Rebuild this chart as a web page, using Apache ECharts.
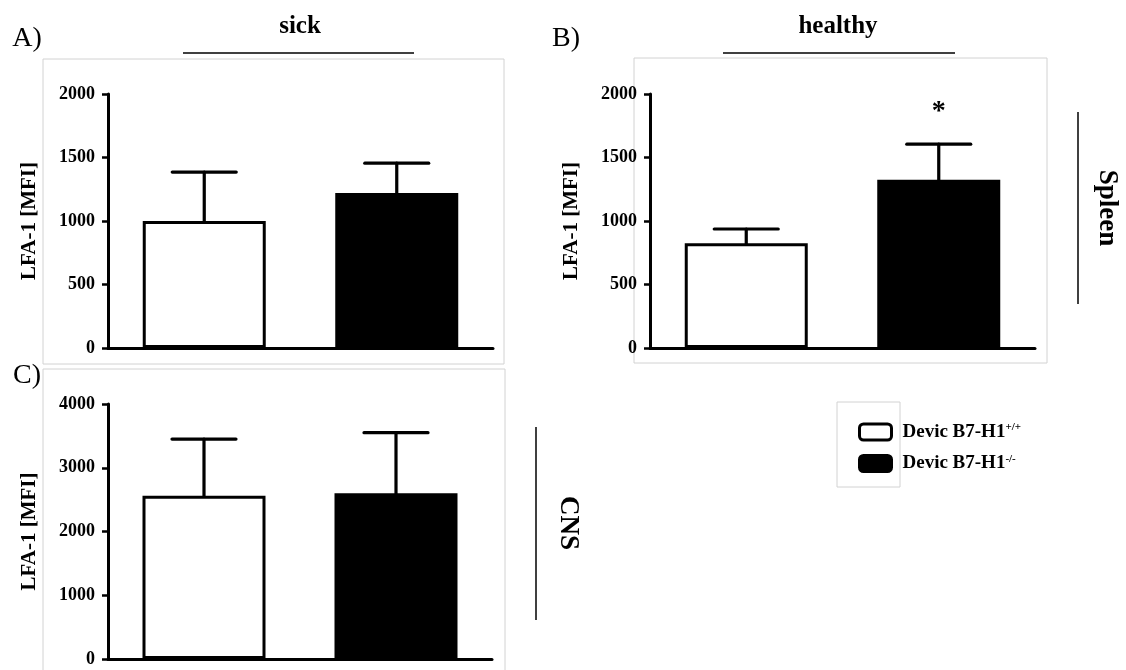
<!DOCTYPE html>
<html>
<head>
<meta charset="utf-8">
<script src="https://cdn.jsdelivr.net/npm/echarts@6/dist/echarts.min.js"></script>
<style>html,body{margin:0;padding:0;background:#fff}#c{width:1126px;height:670px}</style>
</head>
<body>
<div id="c"></div>
<script>
// ---- data ----
const categories = ['Devic B7-H1+/+', 'Devic B7-H1-/-'];
const sickSpleenMean = [1000, 1220];
const sickSpleenUpper = [1385, 1455];
const healthySpleenMean = [825, 1325];
const healthySpleenUpper = [937, 1605];
const sickCNSMean = [2560, 2600];
const sickCNSUpper = [3450, 3550];
const healthySpleenSig = ['', '*'];
const spleenTicks = { min: 0, max: 2000, interval: 500 };
const cnsTicks = { min: 0, max: 4000, interval: 1000 };
const panelTitles = ['sick', 'healthy'];
const panelLetters = ['A)', 'B)', 'C)'];
const rowLabels = ['Spleen', 'CNS'];
const yName = 'LFA-1 [MFI]';

const SERIF = '"Liberation Serif", "Times New Roman", serif';
const chart = echarts.init(document.getElementById('c'));

const grids = [
  { left: 108, top: 94, width: 385, height: 254 },
  { left: 650, top: 94, width: 385, height: 254 },
  { left: 108, top: 404, width: 384, height: 255 }
];

function xAx(i) {
  return {
    type: 'category', gridIndex: i, data: categories, z: 10,
    axisLine: { lineStyle: { color: '#000', width: 3 } },
    axisTick: { show: false }, axisLabel: { show: false }
  };
}
function yAx(i, t) {
  return {
    type: 'value', gridIndex: i, min: t.min, max: t.max, interval: t.interval, z: 10,
    name: yName, nameLocation: 'middle', nameGap: 68,
    nameTextStyle: { fontFamily: SERIF, fontWeight: 'bold', fontSize: 21, color: '#000' },
    axisLine: { show: true, lineStyle: { color: '#000', width: 3 } },
    axisTick: { show: true, length: 6, lineStyle: { color: '#000', width: 2.5 } },
    splitLine: { show: false },
    axisLabel: { fontFamily: SERIF, fontWeight: 'bold', fontSize: 18, color: '#000', margin: 13,
      formatter: function (v) { return String(v); } }
  };
}

const whiteStyle = { color: '#fff', borderColor: '#000', borderWidth: 3 };
const blackStyle = { color: '#000', borderColor: '#000', borderWidth: 3 };

function barPair(i, mean) {
  return [
    { name: categories[0], type: 'bar', xAxisIndex: i, yAxisIndex: i, barWidth: 123, barGap: '-100%',
      data: [mean[0], '-'], itemStyle: whiteStyle, emphasis: { disabled: true } },
    { name: categories[1], type: 'bar', xAxisIndex: i, yAxisIndex: i, barWidth: 123, barGap: '-100%',
      data: ['-', mean[1]], itemStyle: blackStyle, emphasis: { disabled: true } }
  ];
}
function errSeries(i, mean, upper, sig) {
  return {
    type: 'custom', xAxisIndex: i, yAxisIndex: i, z: 5,
    data: mean.map((m, k) => [k, m, upper[k]]),
    renderItem: function (params, api) {
      const p0 = api.coord([api.value(0), api.value(1)]);
      const p1 = api.coord([api.value(0), api.value(2)]);
      const half = 32;
      const st = { stroke: '#000', lineWidth: 3.2, lineCap: 'round' };
      const children = [
        { type: 'line', shape: { x1: p0[0], y1: p0[1], x2: p1[0], y2: p1[1] }, style: st },
        { type: 'line', shape: { x1: p1[0] - half, y1: p1[1], x2: p1[0] + half, y2: p1[1] }, style: st }
      ];
      const s = sig ? sig[params.dataIndex] : '';
      if (s) {
        children.push({ type: 'text', x: p1[0], y: p1[1] - 32,
          style: { text: s, fill: '#000', font: 'bold 28px ' + SERIF, align: 'center', verticalAlign: 'middle' } });
      }
      return { type: 'group', children: children };
    }
  };
}

const gray = '#d2d2d2';
const txt = (x, y, text, font, rot) => ({
  type: 'text', x: x, y: y, rotation: rot || 0,
  style: { text: text, font: font, fill: '#000', align: 'center', verticalAlign: 'middle' }
});
const hline = (x1, x2, y, w, c) => ({ type: 'line', shape: { x1: x1, y1: y, x2: x2, y2: y }, style: { stroke: c || '#000', lineWidth: w } });
const vline = (x, y1, y2, w, c) => ({ type: 'line', shape: { x1: x, y1: y1, x2: x, y2: y2 }, style: { stroke: c || '#000', lineWidth: w } });
const frame = (x, y, w, h) => ({ type: 'rect', shape: { x: x, y: y, width: w, height: h }, style: { fill: 'none', stroke: gray, lineWidth: 1 }, z: -1 });

const option = {
  backgroundColor: '#fff',
  animation: false,
  grid: grids,
  xAxis: [xAx(0), xAx(1), xAx(2)],
  yAxis: [yAx(0, spleenTicks), yAx(1, spleenTicks), yAx(2, cnsTicks)],
  legend: {
    data: [
      { name: categories[0], icon: 'roundRect', itemStyle: { color: '#fff', borderColor: '#000', borderWidth: 3 } },
      { name: categories[1], icon: 'roundRect', itemStyle: { color: '#000', borderColor: '#000', borderWidth: 3 } }
    ],
    orient: 'vertical', left: 853, top: 417, itemWidth: 32, itemHeight: 16, itemGap: 12,
    selectedMode: false,
    formatter: function (n) {
      return n === categories[0] ? '{a|Devic B7-H1}{b|+/+}' : '{a|Devic B7-H1}{b|-/-}';
    },
    textStyle: {
      padding: [0, 0, 0, 6],
      rich: {
        a: { fontFamily: SERIF, fontWeight: 'bold', fontSize: 19, color: '#000', lineHeight: 20 },
        b: { fontFamily: SERIF, fontWeight: 'bold', fontSize: 11, color: '#000', verticalAlign: 'top', lineHeight: 20, padding: [0, 0, 8, 0] }
      }
    }
  },
  graphic: [
    frame(43, 59, 461, 305),
    frame(634, 58, 413, 305),
    frame(43, 369, 462, 320),
    frame(837, 402, 63, 85),
    txt(27, 39, panelLetters[0], '28px ' + SERIF),
    txt(566, 39, panelLetters[1], '28px ' + SERIF),
    txt(27, 376, panelLetters[2], '28px ' + SERIF),
    txt(300, 27, panelTitles[0], 'bold 25px ' + SERIF),
    txt(838, 27, panelTitles[1], 'bold 25px ' + SERIF),
    hline(183, 414, 53, 1.5),
    hline(723, 955, 53, 1.5),
    vline(1078, 112, 304, 1.5),
    vline(536, 427, 620, 1.5),
    txt(1107, 208, rowLabels[0], 'bold 27px ' + SERIF, -Math.PI / 2),
    txt(568, 523, rowLabels[1], 'bold 27px ' + SERIF, -Math.PI / 2)
  ],
  series: [
    ...barPair(0, sickSpleenMean),
    ...barPair(1, healthySpleenMean),
    ...barPair(2, sickCNSMean),
    errSeries(0, sickSpleenMean, sickSpleenUpper, null),
    errSeries(1, healthySpleenMean, healthySpleenUpper, healthySpleenSig),
    errSeries(2, sickCNSMean, sickCNSUpper, null)
  ]
};
chart.setOption(option);
</script>
</body>
</html>
